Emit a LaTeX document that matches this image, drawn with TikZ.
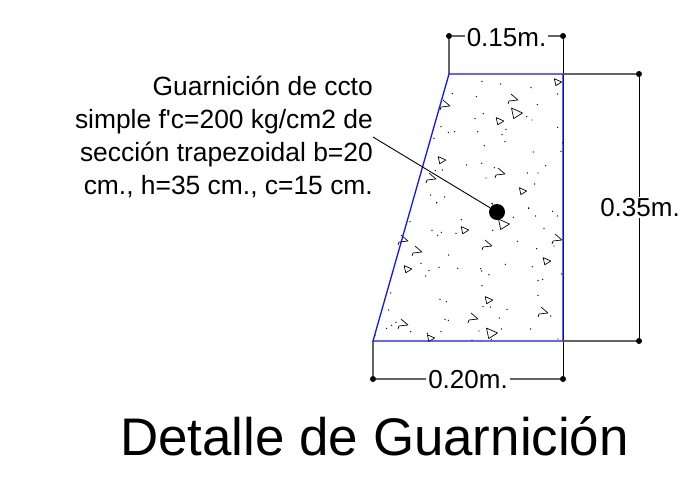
\documentclass[tikz,border=0pt]{standalone}
\usepackage{fontspec}
\setmainfont{Liberation Sans}[Ligatures=TeXOff]
\definecolor{edgeblue}{RGB}{20,20,250}
\definecolor{extgray}{RGB}{100,100,100}
\tikzset{
  outline/.style={edgeblue,line width=1.3pt},
  dimline/.style={black,line width=1pt},
  extline/.style={extgray,line width=1.3pt},
  leader/.style={black,line width=0.9pt},
  tick/.style={circle,fill=black,inner sep=0pt,minimum size=6pt},
  dimlabel/.style={fill=white,text=black,inner sep=2pt,font=\fontsize{26}{26}\selectfont},
  aggr/.style={black,line width=0.7pt,line join=round},
}
\newcommand{\closedtri}[3]{\draw[aggr] (#1-#3,#2-#3*0.9) -- (#1+#3,#2) -- (#1-#3*0.6,#2+#3) -- cycle;}
\newcommand{\hookmark}[2]{\draw[aggr] (#1-2,#2-5) -- (#1+5,#2+1) -- (#1-4,#2+2) -- (#1-5,#2+5);}
\begin{document}
\begin{tikzpicture}[x=1pt,y=-1pt]
\useasboundingbox (0,0) rectangle (691,483);
\coordinate (tl) at (449,74);
\coordinate (tr) at (563,74);
\coordinate (bl) at (373,341);
\coordinate (br) at (563,341);
\node[tick] (d1) at (449,36) {};
\node[tick] (d2) at (563,36) {};
\node[tick] (d3) at (639,74) {};
\node[tick] (d4) at (639,341) {};
\node[tick] (d5) at (373,379) {};
\node[tick] (d6) at (563,379) {};
% aggregate dots, upper part
\foreach \a/\b in {366/184,422/192,513/203,592/222,277/221,349/230,532/254,370/281,345/296,500/290,516/300,243/320,265/337,284/335,353/335,438/328,593/322,426/344,222/355,435/365,608/368,373/377,520/396,603/394,320/435,365/430,403/443,557/437,248/450,226/452,378/474,502/459,534/459,524/492,212/525,254/531,230/548,396/550,506/565}
  \fill[black] ({360+\a/3},{20+\b/3}) circle (0.7);
% aggregate dots, lower part
\foreach \a/\b in {230/8,397/12,506/24,578/34,527/48,592/48,460/52,150/65,304/59,216/91,244/97,233/106,288/100,398/91,552/85,472/124,582/138,530/146,266/165,183/190,436/193,517/200,237/202,293/205,362/206,365/213,207/212,197/228,387/224,605/222,548/238,534/242,366/257,92/279,534/286,240/298,259/305,391/321,369/320,441/328,86/330,572/348,255/358,265/361,418/354,108/367,95/376,80/385,152/395,243/395,424/387,512/387,357/393,202/400,336/420,394/418,594/417,45/407}
  \fill[black] ({360+\a/3},{200+\b/3}) circle (0.7);
% closed triangles
\closedtri{558}{82}{3.6}
\closedtri{500}{121}{3.8}
\closedtri{517}{113}{5.5}
\closedtri{442}{160}{3.8}
\closedtri{523}{191}{3.6}
\closedtri{504}{224}{5.5}
\closedtri{465}{230}{3.8}
\closedtri{408}{269}{3.8}
\closedtri{547}{261}{3.8}
\closedtri{489}{300}{3.8}
\closedtri{492}{333}{5.5}
\closedtri{431}{338}{3.6}
% open hook marks
\hookmark{513}{99}
\hookmark{445}{105}
\hookmark{500}{173}
\hookmark{431}{178}
\hookmark{487}{245}
\hookmark{417}{251}
\hookmark{403}{240}
\hookmark{557}{239}
\hookmark{543}{312}
\hookmark{473}{318}
\hookmark{403}{324}
% extension lines
\draw[extline] (tl) -- (d1);
\draw[dimline] (d2) -- (d6);
\draw[extline] (tr) -- (d3);
\draw[extline] (br) -- (d4);
\draw[extline] (bl) -- (d5);
% outline
\draw[outline,line join=round] (tl) -- (tr) -- (br) -- (bl) -- cycle;
% dimensions
\draw[extline] (d1) -- node[dimlabel,xshift=0.5pt,yshift=-1.5pt] (l15) {0.15m.} (d2);
\draw[dimline] (d3) -- node[dimlabel,xshift=1pt,inner sep=1pt] (l35) {0.35m.} (d4);
\draw[extline] (d5) -- node[dimlabel,yshift=-1pt] (l20) {0.20m.} (d6);
% leader
\node[circle,fill=black,inner sep=0pt,minimum size=16pt] (dot) at (497,212) {};
\coordinate (ls) at (373,137);
\draw[leader] (ls) -- (dot);
% note
\node[anchor=north east,align=right,inner sep=0pt,font=\fontsize{26.4}{33}\selectfont] (note) at (373,76)
  {Guarnición de ccto\hspace{12pt}\\simple f'c=200 kg/cm2 de\\sección trapezoidal b=20\\cm., h=35 cm., c=15 cm.\hspace{12pt}};
\node[anchor=base west,inner sep=0pt,font=\fontsize{52.9}{52.9}\selectfont] (title) at (120,455) {Detalle de Guarnición};
\end{tikzpicture}
\end{document}
